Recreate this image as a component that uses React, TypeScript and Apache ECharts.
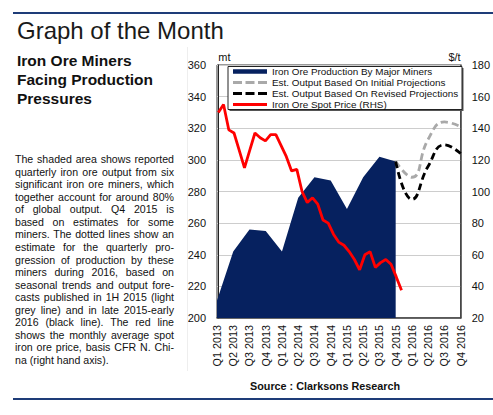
import React, { useEffect, useRef } from "react";
import * as echarts from "echarts";

// ---------- data ----------
const quarters = [
  "Q1 2013", "Q2 2013", "Q3 2013", "Q4 2013",
  "Q1 2014", "Q2 2014", "Q3 2014", "Q4 2014",
  "Q1 2015", "Q2 2015", "Q3 2015", "Q4 2015",
  "Q1 2016", "Q2 2016", "Q3 2016", "Q4 2016",
];
// mt, quarterly output of major miners (LHS)
const production = [211, 242, 256, 255, 242, 276, 289, 287, 269, 289, 302, 299, null, null, null, null];
// mt, estimated output based on initial projections (LHS)
const initialProjection = [null, null, null, null, null, null, null, null, null, null, null, 299, 289, 313, 324, 321];
// mt, estimated output based on revised projections (LHS)
const revisedProjection = [null, null, null, null, null, null, null, null, null, null, null, 299, 275, 296, 309.5, 304];
// $/t, monthly iron ore spot price Jan 2013 - Dec 2015 (RHS)
const spotPrice = [
  150, 155, 139, 137, 126, 115, 126, 137, 134, 132, 136, 136,
  129, 122, 113, 114, 100, 93, 96, 92, 82, 80, 73, 68,
  66, 62, 57, 50.5, 60, 62, 52, 55, 57, 54, 46, 37.5,
];
const leftAxis = { min: 200, max: 360, interval: 20 };
const rightAxis = { min: 20, max: 180, interval: 20 };

const seriesNames = [
  "Iron Ore Production By Major Miners",
  "Est. Output Based On Initial Projections",
  "Est. Output Based On Revised Projections",
  "Iron Ore Spot Price (RHS)",
];

const paragraphLines = [
  "The shaded area shows reported",
  "quarterly iron ore output from six",
  "significant iron ore miners, which",
  "together account for around 80%",
  "of global output. Q4 2015 is",
  "based on estimates for some",
  "miners. The dotted lines show an",
  "estimate for the quarterly pro-",
  "gression of production by these",
  "miners during 2016, based on",
  "seasonal trends and output fore-",
  "casts published in 1H 2015 (light",
  "grey line) and in late 2015-early",
  "2016 (black line). The red line",
  "shows the monthly average spot",
  "iron ore price, basis CFR N. Chi-",
  "na (right hand axis).",
];

// ---------- styles ----------
const NAVY = "#06215f";
const RULE = "#1e3c78";
const SANS = "'Liberation Sans', Arial, Helvetica, sans-serif";
const DASH_ICON = "path://M0,0h9v3h-9zM12.5,0h9v3h-9zM25,0h9v3h-9z";

function buildOption(): any {
  const labelStyle = { fontFamily: SANS, fontSize: 11, color: "#111" };
  const legendText = { fontFamily: SANS, fontSize: 9.9, color: "#111", lineHeight: 11 };
  return {
    animation: false,
    backgroundColor: "transparent",
    textStyle: { fontFamily: SANS },
    grid: {
      left: 217,
      right: 30,
      top: 65,
      bottom: 97,
      show: true,
      borderColor: "#333",
      borderWidth: 1,
      backgroundColor: "transparent",
    },
    graphic: [
      { type: "rect", z: 5, shape: { x: 229.5, y: 68, width: 234, height: 43 }, style: { fill: "#555" } },
      { type: "rect", z: 6, shape: { x: 228, y: 66.5, width: 234, height: 43 }, style: { fill: "#fff", stroke: "#222", lineWidth: 1 } },
    ],
    legend: [
      {
        z: 10,
        left: 233,
        top: 66,
        padding: 0,
        orient: "vertical",
        itemGap: 0,
        itemWidth: 34,
        itemHeight: 4.5,
        symbolKeepAspect: false,
        textStyle: legendText,
        data: [{ name: seriesNames[0], icon: "rect" }],
      },
      {
        z: 10,
        left: 233,
        top: 77,
        padding: 0,
        orient: "vertical",
        itemGap: 0,
        itemWidth: 34,
        itemHeight: 3,
        symbolKeepAspect: false,
        textStyle: legendText,
        data: [
          { name: seriesNames[1], icon: DASH_ICON },
          { name: seriesNames[2], icon: DASH_ICON },
          { name: seriesNames[3], icon: "rect" },
        ],
      },
    ],
    xAxis: [
      {
        type: "category",
        data: quarters,
        boundaryGap: false,
        axisLine: { show: true, lineStyle: { color: "#444", width: 1.5 } },
        axisTick: { show: false },
        splitLine: { show: false },
        axisLabel: { ...labelStyle, fontSize: 10.8, rotate: 90, interval: 0, margin: 7 },
      },
      {
        type: "value",
        min: -0.25,
        max: 46.3,
        show: false,
      },
    ],
    yAxis: [
      {
        type: "value",
        position: "left",
        min: leftAxis.min,
        max: leftAxis.max,
        interval: leftAxis.interval,
        name: "mt",
        nameLocation: "end",
        nameGap: 3,
        nameTextStyle: { ...labelStyle, align: "left" },
        axisLine: { show: true, lineStyle: { color: "#222", width: 1 } },
        axisTick: { show: false },
        axisLabel: { ...labelStyle, margin: 11 },
        splitLine: { show: true, lineStyle: { color: "#cdcdcd", width: 1 } },
      },
      {
        type: "value",
        position: "right",
        min: rightAxis.min,
        max: rightAxis.max,
        interval: rightAxis.interval,
        name: "$/t",
        nameLocation: "end",
        nameGap: 3,
        nameTextStyle: { ...labelStyle, align: "right" },
        axisLine: { show: true, lineStyle: { color: "#444", width: 1.5 } },
        axisTick: { show: false },
        axisLabel: { ...labelStyle, margin: 11 },
        splitLine: { show: false },
      },
    ],
    series: [
      {
        name: seriesNames[0],
        type: "line",
        color: NAVY,
        data: production,
        symbol: "none",
        lineStyle: { width: 0, color: NAVY },
        areaStyle: { color: NAVY, opacity: 1 },
        z: 2,
      },
      {
        name: seriesNames[1],
        type: "line",
        color: "#a9a9a9",
        data: initialProjection,
        symbol: "none",
        smooth: true,
        lineStyle: { width: 2.8, color: "#a9a9a9", type: [7, 4] },
        z: 3,
      },
      {
        name: seriesNames[2],
        type: "line",
        color: "#000",
        data: revisedProjection,
        symbol: "none",
        smooth: true,
        lineStyle: { width: 2.8, color: "#000", type: [7, 4] },
        z: 4,
      },
      {
        name: seriesNames[3],
        type: "line",
        color: "#ff0000",
        xAxisIndex: 1,
        yAxisIndex: 1,
        data: spotPrice.map((v, i) => [i, v]),
        symbol: "none",
        lineStyle: { width: 2.8, color: "#ff0000" },
        z: 5,
      },
    ],
  };
}

export default function App() {
  const ref = useRef<HTMLDivElement>(null);
  useEffect(() => {
    document.body.style.margin = "0";
    const chart = echarts.init(ref.current as HTMLDivElement, null, { renderer: "svg" });
    chart.setOption(buildOption());
    return () => chart.dispose();
  }, []);

  const lastIdx = paragraphLines.length - 1;
  return (
    <div
      style={{
        position: "relative",
        width: 493,
        height: 415,
        background: "#fff",
        overflow: "hidden",
        fontFamily: SANS,
        color: "#111",
      }}
    >
      <div ref={ref} style={{ position: "absolute", left: 0, top: 0, width: 493, height: 415 }} />
      <div style={{ position: "absolute", left: 13, top: 12, width: 480, height: 2, background: RULE }} />
      <div style={{ position: "absolute", left: 13, top: 398, width: 480, height: 2, background: RULE }} />
      <div style={{ position: "absolute", left: 187, top: 47, width: 1, height: 324, background: "#eeeeee" }} />
      <div
        style={{
          position: "absolute",
          left: 17,
          top: 19,
          fontSize: 24,
          lineHeight: "24px",
          fontWeight: 400,
          color: "#1a1a1a",
          whiteSpace: "nowrap",
        }}
      >
        Graph of the Month
      </div>
      <div
        style={{
          position: "absolute",
          left: 17,
          top: 52.2,
          fontSize: 15.5,
          lineHeight: "18.8px",
          fontWeight: 700,
          color: "#111",
          whiteSpace: "nowrap",
        }}
      >
        <div>Iron Ore Miners</div>
        <div>Facing Production</div>
        <div>Pressures</div>
      </div>
      <div
        style={{
          position: "absolute",
          left: 15,
          top: 153.2,
          width: 159,
          fontSize: 10.6,
          lineHeight: "12.55px",
          color: "#111",
        }}
      >
        {paragraphLines.map((line, i) => (
          <div
            key={i}
            style={{
              height: 12.55,
              textAlign: i < lastIdx ? "justify" : "left",
              textAlignLast: i < lastIdx ? "justify" : "left",
            } as any}
          >
            {line}
          </div>
        ))}
      </div>
      <div
        style={{
          position: "absolute",
          left: 225,
          top: 380,
          width: 200,
          textAlign: "center",
          fontFamily: SANS,
          fontWeight: 700,
          fontSize: 10.8,
          lineHeight: "12px",
          color: "#111",
          whiteSpace: "nowrap",
        }}
      >
        Source : Clarksons Research
      </div>
    </div>
  );
}
